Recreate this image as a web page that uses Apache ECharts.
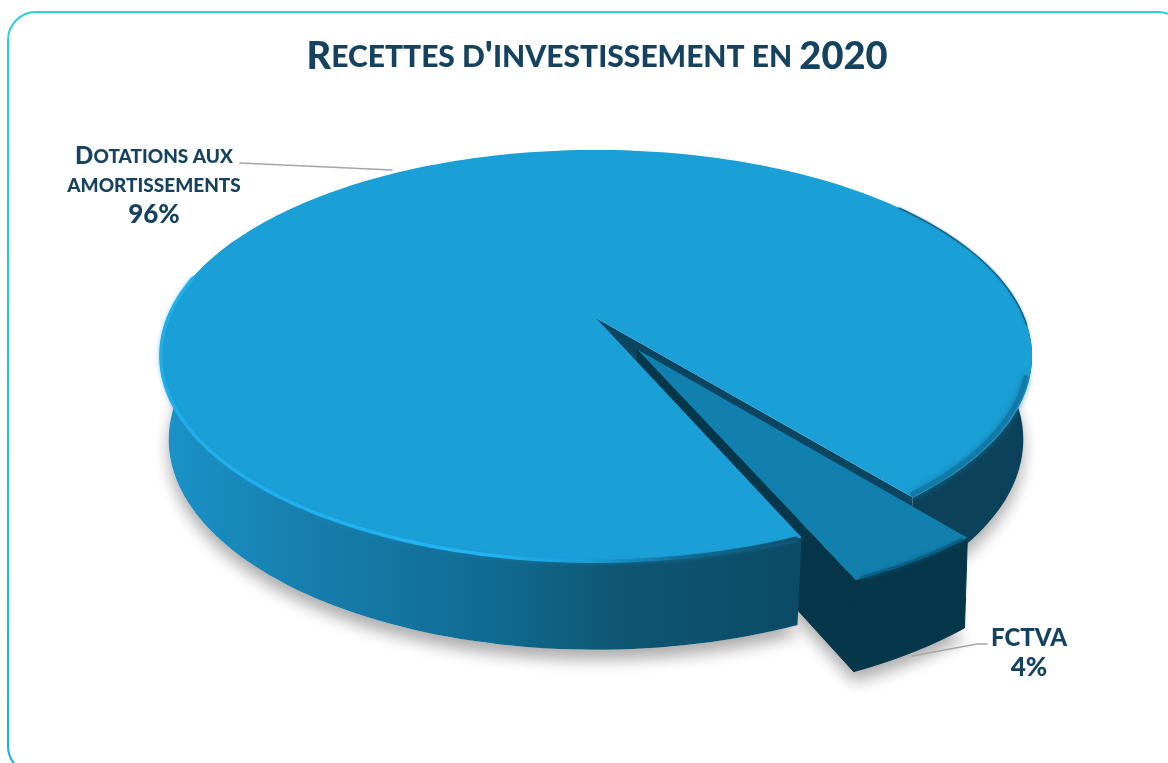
<!DOCTYPE html>
<html><head><meta charset="utf-8">
<style>html,body{margin:0;padding:0;background:#fff}#c{width:1168px;height:763px}</style>
<script src="https://cdn.jsdelivr.net/npm/echarts@6/dist/echarts.min.js"></script>
</head><body><div id="c"></div>
<script>
const chartTitle = "Recettes d'investissement en 2020";
const categories = ["Dotations aux\namortissements", "FCTVA"];
// shares estimated from the drawn angles; the printed labels round them to 96% and 4%
const values = [95.6, 4.4];

const FONT = 'Lato';
const NAVY = '#15435f';
const startAngle = 66.5;           // where the first slice begins, clockwise from 3 o'clock
const explode = [0, 0.18];         // pull-out of each slice, in pie radii
// perspective projection of the pie's plane
const view = {cx: 596, cy: 318, rx: 428.6, ry: 199, k: -0.184, depth: 83, baseRx: 0.98, baseRy: 1.02};

function smallCaps(str, big, small) {
  return str.split('\n').map(line => {
    let out = '', run = '', kind = null;
    const flush = () => { if (run) out += '{' + kind + '|' + run + '}'; run = ''; };
    for (const ch of line) {
      const isSmall = ch !== ch.toUpperCase() || ch === ' ';
      const k = isSmall ? small : big;
      if (k !== kind) { flush(); kind = k; }
      run += ch.toUpperCase();
    }
    flush();
    return out;
  }).join('\n');
}

function proj(X, Y, base) {
  const w = 1 + view.k * Y;
  return base
    ? [view.cx + view.rx * view.baseRx * X / w, view.cy + view.depth + view.ry * view.baseRy * Y / w]
    : [view.cx + view.rx * X / w, view.cy + view.ry * Y / w];
}
const rad = d => d * Math.PI / 180;
function arc(a0, a1, off, base, r) {
  const n = Math.max(2, Math.ceil(Math.abs(a1 - a0) / 1.5)), pts = [];
  r = r || 1;
  for (let i = 0; i <= n; i++) {
    const a = rad(a0 + (a1 - a0) * i / n);
    pts.push(proj(off[0] + r * Math.cos(a), off[1] + r * Math.sin(a), base));
  }
  return pts;
}
function poly(points, fill, z2, extra) {
  return {type: 'polygon', z2, silent: true, shape: {points},
          style: Object.assign({fill, stroke: null}, extra || {})};
}
function line(points, stroke, width, z2, extra) {
  return {type: 'polyline', z2, silent: true, shape: {points},
          style: Object.assign({fill: null, stroke, lineWidth: width, lineJoin: 'round', lineCap: 'round'}, extra || {})};
}
const hgrad = (x0, x1, stops) => ({type: 'linear', x: x0, y: 0, x2: x1, y2: 0, global: true,
  colorStops: stops.map(s => ({offset: (s[0] - x0) / (x1 - x0), color: s[1]}))});
const RIM_GRAD = hgrad(159, 1030, [[159, '#20aeea'], [480, '#22b4f2'], [590, '#1a9ed4'], [680, '#11709a'], [810, '#0c4a66'], [1030, '#0c4a66']]);
const WALL_GRAD = hgrad(165, 805, [[165, '#1a92c8'], [300, '#177fae'], [480, '#116c94'], [620, '#0e5673'], [805, '#0c4a66']]);

const total = values.reduce((a, b) => a + b, 0);
const spans = values.map(v => v / total * 360);

function renderItem(params, api) {
  const i = params.dataIndex;
  const span = api.value(0) / total * 360;
  const start = startAngle + spans.slice(0, i).reduce((a, b) => a + b, 0);
  const end = start + span;
  const mid = rad((start + end) / 2);
  const off = [explode[i] * Math.cos(mid), explode[i] * Math.sin(mid)];
  const top = proj(off[0], off[1], false), bot = proj(off[0], off[1], true);
  const baseArc = arc(start, end, off, true);
  const kids = [];
  // ground shadow
  kids.push(poly(baseArc.concat([bot]), '#fff', 1, {shadowBlur: 16, shadowOffsetY: 10, shadowColor: 'rgba(0,0,0,0.33)'}));
  if (i === 0) {
    const wrap = end - 360;
    // right part of the rim (behind the pulled-out slice)
    const rA = arc(wrap - 70, wrap, off, false), rB = arc(wrap - 70, wrap, off, true);
    kids.push(poly(rA.concat(rB.slice().reverse()), '#0b4259', 10));
    // cut wall facing the gap
    const c = Math.cos(rad(end)), s = Math.sin(rad(end));
    kids.push(poly([top, proj(c, s, false), proj(c, s, true), bot], '#0c4560', 11));
    // front wall
    const fA = arc(start, 205, off, false), fB = arc(start, 205, off, true);
    kids.push(poly(fA.concat(fB.slice().reverse()), WALL_GRAD, 30));
    // top
    kids.push(poly(arc(start, end, off, false).concat([top]), '#1a9fd6', 32));
    // bevel on the top face
    kids.push(line(arc(start + 0.6, 192, off, false, 0.998), RIM_GRAD, 3.5, 33, {shadowBlur: 4, shadowColor: 'rgba(20,150,205,0.5)'}));
    kids.push(line(arc(wrap - 34, wrap - 0.5, off, false, 0.992), '#127aa8', 5, 33, {shadowBlur: 6, shadowColor: '#127aa8'}));
    kids.push(line(arc(-38, 2, off, false, 0.999), '#0f5f85', 1.1, 33, {shadowBlur: 2, shadowColor: '#0f5f85'}));
  } else {
    // wedge: near cut wall, outer wall, top
    const r = 0.988;
    const c = Math.cos(rad(end)), s = Math.sin(rad(end));
    const q1 = proj(off[0] + r * c, off[1] + r * s, false), q2 = proj(off[0] + c, off[1] + s, true);
    const seam = {stroke: '#05364a', lineWidth: 1};
    kids.push(poly([top, q1, q2, bot], '#05364a', 20, seam));
    kids.push(poly(arc(start, end, off, false, r).concat(baseArc.slice().reverse()), '#05364a', 21, seam));
    kids.push(poly(arc(start, end, off, false, r).concat([top]), '#1280af', 22));
    kids.push(line(arc(start + 0.8, end - 0.8, off, false, 0.985), '#0b5f84', 2.5, 23, {shadowBlur: 5, shadowColor: '#0b5f84'}));
  }
  // leader and label
  const pct = Math.round(api.value(0) / total * 100) + '%';
  const lab = i === 0
    ? {pts: [[240, 163], [392, 170]], x: 154, y: 186}
    : {pts: [[987, 644], [977, 644], [912, 656]], x: 1029, y: 653};
  kids.push(line(lab.pts, '#a6a6a6', 1.6, 40));
  kids.push({type: 'text', z2: 41, silent: true, style: {
    x: lab.x, y: lab.y, align: 'center', verticalAlign: 'middle',
    text: smallCaps(categories[i], 'a', 'b') + '\n{p|' + pct + '}',
    rich: {
      a: {fontFamily: FONT, fontWeight: 900, fontSize: 24, lineHeight: 29, fill: NAVY},
      b: {fontFamily: FONT, fontWeight: 900, fontSize: 19, lineHeight: 29, fill: NAVY},
      p: {fontFamily: FONT, fontWeight: 900, fontSize: 26, lineHeight: 30, fill: NAVY}
    }
  }});
  return {type: 'group', children: kids};
}

const chart = echarts.init(document.getElementById('c'), null, {renderer: 'canvas'});
chart.setOption({
  animation: false,
  backgroundColor: '#ffffff',
  title: {
    left: 592, textAlign: 'center', top: 33,
    text: smallCaps(chartTitle, 't', 'u'),
    textStyle: {
      rich: {
        t: {fontFamily: FONT, fontWeight: 900, fontSize: 38, color: NAVY},
        u: {fontFamily: FONT, fontWeight: 900, fontSize: 30, color: NAVY}
      }
    }
  },
  graphic: [{
    type: 'rect', z: -1, silent: true,
    shape: {x: 8, y: 12, width: 1178, height: 762, r: 28},
    style: {
      fill: '#fff', lineWidth: 2,
      stroke: {type: 'linear', x: 0, y: 0, x2: 0, y2: 1, colorStops: [{offset: 0, color: '#2dd0da'}, {offset: 1, color: '#18b0e6'}]}
    }
  }],
  series: [{
    type: 'custom',
    coordinateSystem: 'none',
    renderItem,
    data: categories.map((c, i) => ({name: c, value: [values[i]]}))
  }]
});
</script></body></html>
